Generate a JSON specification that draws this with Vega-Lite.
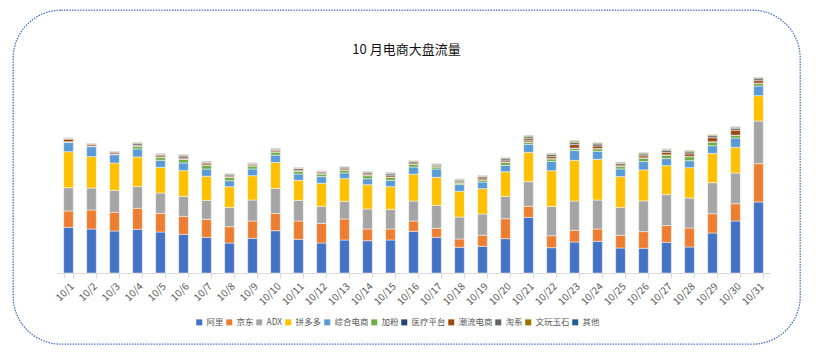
{
  "$schema": "https://vega.github.io/schema/vega-lite/v6.json",
  "autosize": {"type": "none"},
  "padding": {"left": 13, "top": 10, "right": 19, "bottom": 14},
  "width": 787,
  "height": 334,
  "background": "white",
  "config": {
    "font": "Noto Sans CJK SC",
    "view": {"stroke": "#4472C4", "strokeDash": [1.5, 1.2], "strokeWidth": 1.3, "cornerRadius": 48}
  },
  "title": {"text": "10 月电商大盘流量", "fontSize": 13, "fontWeight": "normal", "color": "#111111", "offset": -47, "anchor": "middle"},
  "data": {"values": [
    {"d":"10/1","阿里":45.7,"京东":16.3,"ADX":23.3,"拼多多":36,"综合电商":9.3,"加粉":0.4,"医疗平台":0.3,"潮流电商":2.5,"淘系":0.8,"文玩玉石":0.5,"其他":0.2},
    {"d":"10/2","阿里":44,"京东":19,"ADX":22,"拼多多":31.3,"综合电商":10,"加粉":0.5,"医疗平台":0.3,"潮流电商":1.5,"淘系":0.8,"文玩玉石":0.4,"其他":0.2},
    {"d":"10/3","阿里":42,"京东":18.7,"ADX":22,"拼多多":27.3,"综合电商":8.3,"加粉":0.5,"医疗平台":0.3,"潮流电商":1.3,"淘系":1,"文玩玉石":0.4,"其他":0.2},
    {"d":"10/4","阿里":43.7,"京东":21,"ADX":21.7,"拼多多":29.7,"综合电商":8,"加粉":2.5,"医疗平台":0.3,"潮流电商":1,"淘系":1.5,"文玩玉石":1,"其他":0.4},
    {"d":"10/5","阿里":41,"京东":18.7,"ADX":20.3,"拼多多":25.7,"综合电商":7,"加粉":2.7,"医疗平台":0.3,"潮流电商":1.5,"淘系":1,"文玩玉石":0.8,"其他":0.4},
    {"d":"10/6","阿里":38.7,"京东":18,"ADX":20,"拼多多":25.7,"综合电商":7.7,"加粉":3.5,"医疗平台":0.3,"潮流电商":1,"淘系":2,"文玩玉石":1,"其他":0.5},
    {"d":"10/7","阿里":35.7,"京东":18,"ADX":19,"拼多多":24,"综合电商":7.3,"加粉":3.5,"医疗平台":0.3,"潮流电商":1.5,"淘系":1.2,"文玩玉石":1,"其他":0.5},
    {"d":"10/8","阿里":30,"京东":16.3,"ADX":19.3,"拼多多":20.7,"综合电商":6,"加粉":3.5,"医疗平台":0.3,"潮流电商":1,"淘系":1.2,"文玩玉石":1,"其他":0.3},
    {"d":"10/9","阿里":34.7,"京东":17.3,"ADX":21,"拼多多":24.3,"综合电商":6.7,"加粉":3,"医疗平台":0.3,"潮流电商":1,"淘系":1,"文玩玉石":0.7,"其他":0.3},
    {"d":"10/10","阿里":42.3,"京东":17.3,"ADX":25,"拼多多":26,"综合电商":7.3,"加粉":3,"医疗平台":0.3,"潮流电商":1.2,"淘系":1.2,"文玩玉石":0.8,"其他":0.5},
    {"d":"10/11","阿里":33.7,"京东":18.3,"ADX":20.7,"拼多多":20,"综合电商":6.3,"加粉":2.7,"医疗平台":0.3,"潮流电商":1,"淘系":1.5,"文玩玉石":0.8,"其他":0.4},
    {"d":"10/12","阿里":30,"京东":19.7,"ADX":17,"拼多多":23,"综合电商":6.7,"加粉":2.5,"医疗平台":0.3,"潮流电商":1,"淘系":1.2,"文玩玉石":0.7,"其他":0.3},
    {"d":"10/13","阿里":33,"京东":21,"ADX":17.7,"拼多多":22.7,"综合电商":5.7,"加粉":2.7,"医疗平台":0.3,"潮流电商":1.2,"淘系":1.5,"文玩玉石":0.7,"其他":0.3},
    {"d":"10/14","阿里":32.3,"京东":11.7,"ADX":20,"拼多多":24.3,"综合电商":6,"加粉":3,"医疗平台":0.3,"潮流电商":1.2,"淘系":1.5,"文玩玉石":0.8,"其他":0.5},
    {"d":"10/15","阿里":33,"京东":11,"ADX":19.7,"拼多多":22.7,"综合电商":6.3,"加粉":2.8,"医疗平台":0.3,"潮流电商":1.5,"淘系":1.8,"文玩玉石":0.8,"其他":0.5},
    {"d":"10/16","阿里":41.7,"京东":10.3,"ADX":20,"拼多多":26.7,"综合电商":7.3,"加粉":2.5,"医疗平台":0.3,"潮流电商":1.3,"淘系":1.5,"文玩玉石":0.8,"其他":0.3},
    {"d":"10/17","阿里":35.7,"京东":9,"ADX":23,"拼多多":28,"综合电商":8.3,"加粉":2,"医疗平台":0.3,"潮流电商":1.3,"淘系":1.2,"文玩玉石":0.6,"其他":0.3},
    {"d":"10/18","阿里":25.7,"京东":8.3,"ADX":22,"拼多多":25.7,"综合电商":6.7,"加粉":1.5,"医疗平台":0.3,"潮流电商":1,"淘系":1.5,"文玩玉石":1,"其他":0.4},
    {"d":"10/19","阿里":26.7,"京东":11,"ADX":21.3,"拼多多":25.3,"综合电商":6.7,"加粉":2,"医疗平台":0.3,"潮流电商":1.8,"淘系":1.5,"文玩玉石":0.7,"其他":0.4},
    {"d":"10/20","阿里":34.3,"京东":20,"ADX":22.3,"拼多多":24.7,"综合电商":6.3,"加粉":3,"医疗平台":0.3,"潮流电商":1.3,"淘系":2,"文玩玉石":1,"其他":0.4},
    {"d":"10/21","阿里":55.7,"京东":11,"ADX":24.7,"拼多多":29.3,"综合电商":8,"加粉":2,"医疗平台":0.5,"潮流电商":1.7,"淘系":2,"文玩玉石":1.5,"其他":1},
    {"d":"10/22","阿里":25.3,"京东":12,"ADX":29.3,"拼多多":35.7,"综合电商":9.3,"加粉":2.5,"医疗平台":0.3,"潮流电商":2,"淘系":2,"文玩玉石":1,"其他":0.5},
    {"d":"10/23","阿里":31,"京东":11.7,"ADX":29.3,"拼多多":40.7,"综合电商":9.7,"加粉":2,"医疗平台":0.5,"潮流电商":3.5,"淘系":2,"文玩玉石":1.5,"其他":0.5},
    {"d":"10/24","阿里":31.7,"京东":12.3,"ADX":29,"拼多多":40.7,"综合电商":8,"加粉":2.5,"医疗平台":0.3,"潮流电商":2.5,"淘系":2,"文玩玉石":1,"其他":0.4},
    {"d":"10/25","阿里":25,"京东":12.7,"ADX":28,"拼多多":30.7,"综合电商":7.7,"加粉":2.3,"医疗平台":0.3,"潮流电商":1.3,"淘系":1.7,"文玩玉石":1,"其他":0.4},
    {"d":"10/26","阿里":24.7,"京东":16.7,"ADX":30.7,"拼多多":31,"综合电商":8.3,"加粉":3.5,"医疗平台":0.3,"潮流电商":2,"淘系":1.8,"文玩玉石":1,"其他":0.4},
    {"d":"10/27","阿里":30.7,"京东":16.7,"ADX":31,"拼多多":29,"综合电商":7,"加粉":3.5,"医疗平台":0.3,"潮流电商":2.5,"淘系":2,"文玩玉石":1,"其他":0.4},
    {"d":"10/28","阿里":26,"京东":19,"ADX":30,"拼多多":30.3,"综合电商":7,"加粉":4,"医疗平台":0.3,"潮流电商":2.5,"淘系":2,"文玩玉石":1,"其他":0.5},
    {"d":"10/29","阿里":40,"京东":19.3,"ADX":31,"拼多多":29.3,"综合电商":7.7,"加粉":3.5,"医疗平台":0.5,"潮流电商":4,"淘系":2,"文玩玉石":1,"其他":0.3},
    {"d":"10/30","阿里":52,"京东":17.3,"ADX":30.7,"拼多多":25.7,"综合电商":9.3,"加粉":2.5,"医疗平台":0.3,"潮流电商":5,"淘系":2,"文玩玉石":1,"其他":0.5},
    {"d":"10/31","阿里":71,"京东":38.3,"ADX":42.7,"拼多多":25.3,"综合电商":9.7,"加粉":2.5,"医疗平台":0.3,"潮流电商":2.5,"淘系":2,"文玩玉石":1.2,"其他":0.5}
  ]},
  "transform": [
    {"fold": ["阿里","京东","ADX","拼多多","综合电商","加粉","医疗平台","潮流电商","淘系","文玩玉石","其他"], "as": ["s", "v"]},
    {"calculate": "indexof(['阿里','京东','ADX','拼多多','综合电商','加粉','医疗平台','潮流电商','淘系','文玩玉石','其他'], datum.s)", "as": "k"}
  ],
  "mark": {"type": "bar", "stroke": "#ffffff", "strokeWidth": 0.6, "strokeOpacity": 0.8},
  "encoding": {
    "x": {
      "field": "d", "type": "ordinal", "sort": null,
      "scale": {"range": [44, 757], "paddingInner": 0.58, "paddingOuter": 0.29},
      "axis": {"title": null, "labelAngle": -45, "labelFontSize": 10, "labelColor": "#595959", "domainColor": "#D9D9D9", "tickColor": "#D9D9D9", "tickBand": "extent", "tickSize": 5, "offset": -71, "labelPadding": 3}
    },
    "y": {
      "field": "v", "type": "quantitative", "stack": "zero",
      "scale": {"domain": [0, 200], "range": [263, 63], "nice": false, "zero": true},
      "axis": null
    },
    "color": {
      "field": "s", "type": "nominal",
      "scale": {
        "domain": ["阿里","京东","ADX","拼多多","综合电商","加粉","医疗平台","潮流电商","淘系","文玩玉石","其他"],
        "range": ["#4472C4","#ED7D31","#A5A5A5","#FFC000","#5B9BD5","#70AD47","#264478","#9E480E","#636363","#997300","#255E91"]
      },
      "legend": {"title": null, "orient": "none", "legendX": 182, "legendY": 308, "direction": "horizontal", "columns": 11, "gridAlign": "each", "symbolType": "square", "symbolSize": 36, "symbolStrokeWidth": 0, "labelFontSize": 8.5, "labelColor": "#595959", "columnPadding": 1, "labelOffset": 3}
    },
    "order": {"field": "k", "type": "quantitative", "sort": "ascending"}
  }
}
